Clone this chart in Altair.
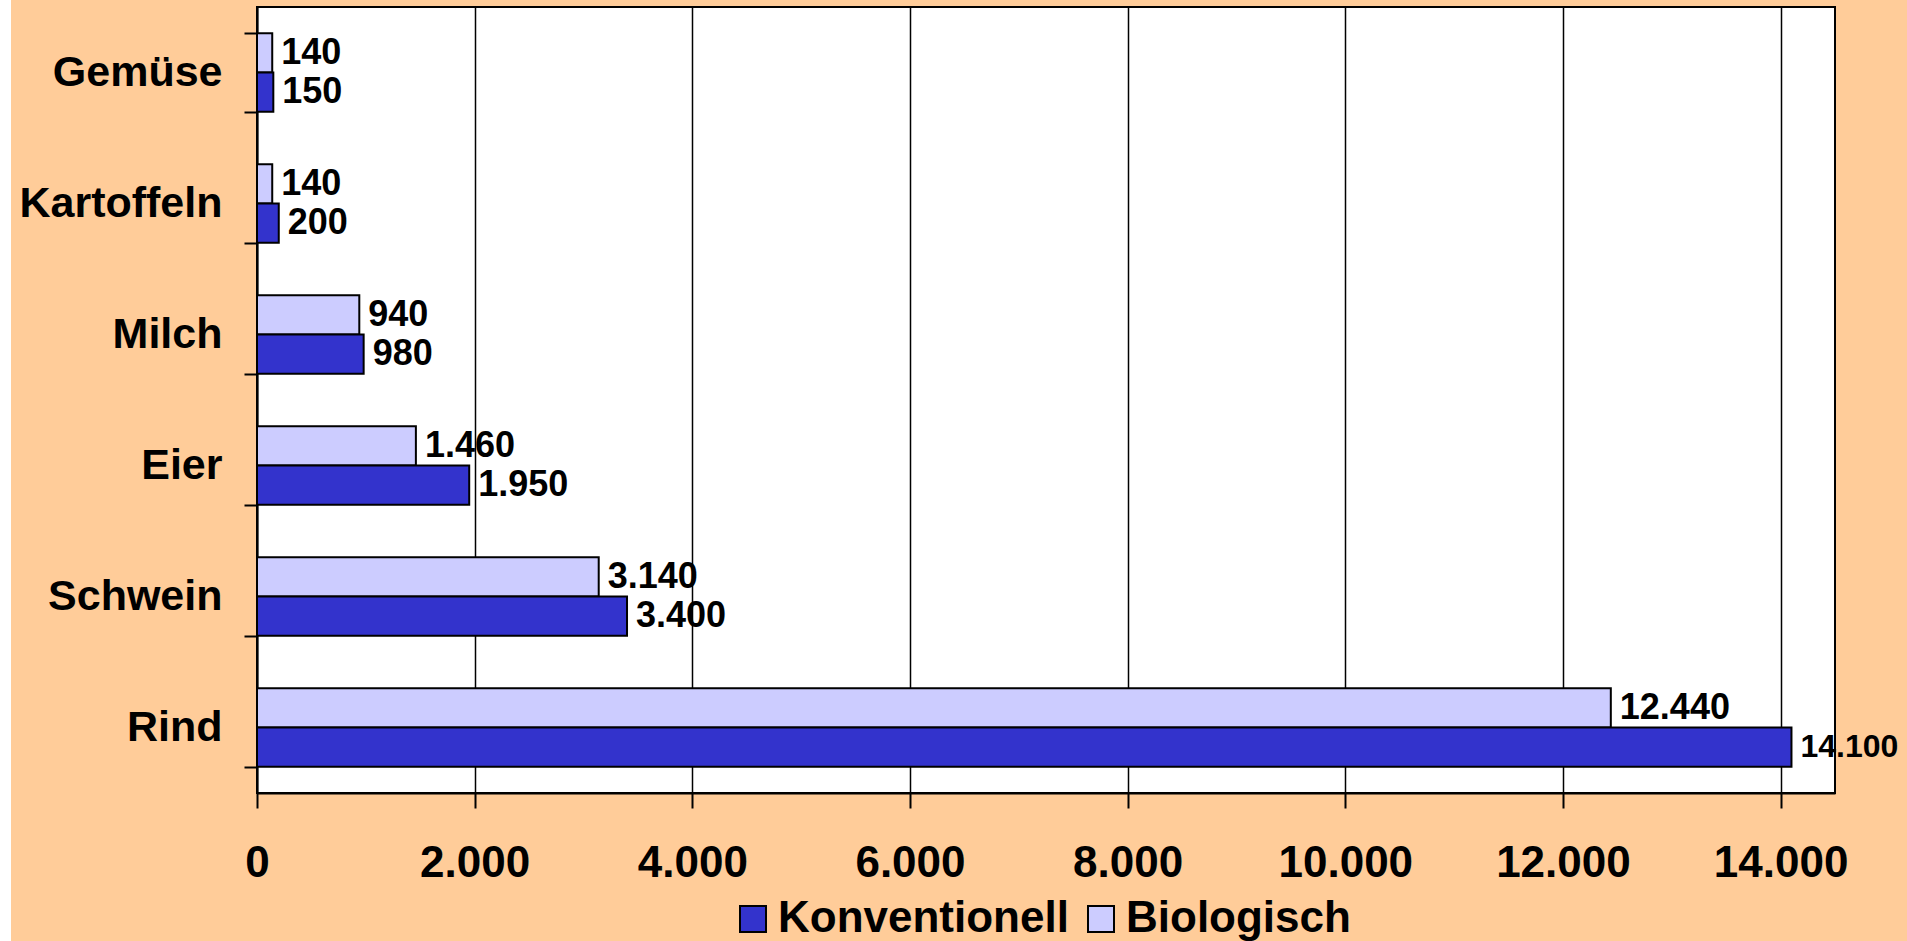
import altair as alt
import pandas as pd

categories = ["Gemüse", "Kartoffeln", "Milch", "Eier", "Schwein", "Rind"]
konventionell = [150, 200, 980, 1950, 3400, 14100]
biologisch = [140, 140, 940, 1460, 3140, 12440]
series = ["Konventionell", "Biologisch"]
x_ticks = [0, 2000, 4000, 6000, 8000, 10000, 12000, 14000]

rows = []
for c, k, b in zip(categories, konventionell, biologisch):
    rows.append({"Produkt": c, "Anbau": "Biologisch", "Wert": b})
    rows.append({"Produkt": c, "Anbau": "Konventionell", "Wert": k})
df = pd.DataFrame(rows)

FONT = "Liberation Sans"

base = alt.Chart(df).transform_calculate(
    label="replace(format(datum.Wert, ','), ',', '.')"
).encode(
    y=alt.Y("Produkt:N", sort=categories, title=None,
            scale=alt.Scale(paddingInner=0.4, paddingOuter=0.2),
            axis=alt.Axis(tickBand="extent", tickSize=13, tickWidth=2, tickColor="black",
                          domainColor="black", domainWidth=2,
                          labelFont=FONT, labelFontSize=43, labelFontWeight="bold",
                          labelColor="black", labelPadding=22, labelLimit=400)),
    yOffset=alt.YOffset("Anbau:N", sort=["Biologisch", "Konventionell"]),
    x=alt.X("Wert:Q", title=None,
            scale=alt.Scale(domain=[0, 14500], nice=False),
            axis=alt.Axis(values=x_ticks, grid=True, gridColor="black", gridWidth=1.5, gridOpacity=1,
                          tickSize=15, tickWidth=2, tickColor="black",
                          domainColor="black", domainWidth=2,
                          labelExpr="replace(format(datum.value, ','), ',', '.')",
                          labelFont=FONT, labelFontSize=44, labelFontWeight="bold",
                          labelColor="black", labelPadding=33, labelFlush=False)),
)

bars = base.mark_bar(stroke="black", strokeWidth=2, opacity=1).encode(
    color=alt.Color("Anbau:N",
                    scale=alt.Scale(domain=series, range=["#3333CC", "#CCCCFF"]),
                    legend=alt.Legend(title=None, orient="none", legendX=474, legendY=890,
                                      direction="horizontal", symbolType="square",
                                      symbolSize=676, symbolStrokeColor="black",
                                      symbolStrokeWidth=2, symbolOpacity=1,
                                      labelFont=FONT, labelFontSize=44, labelFontWeight="bold",
                                      labelColor="black", labelOffset=3, columnPadding=10,
                                      padding=0, labelLimit=600))
)

texts = base.mark_text(align="left", baseline="middle", dx=9, font=FONT,
                       fontWeight="bold", color="black").encode(
    text="label:N",
    size=alt.condition("datum.Wert > 14000", alt.value(32), alt.value(36)),
)

strip = alt.Chart(pd.DataFrame({"a": [0]})).mark_rect(color="white").encode(
    x=alt.value(-257), x2=alt.value(-246), y=alt.value(-7), y2=alt.value(934)
)

chart = alt.layer(strip, bars, texts).properties(
    width=1578, height=786,
    background="#FFCC99",
    padding={"left": 257, "top": 7, "right": 72, "bottom": 148},
    autosize=alt.AutoSizeParams(type="none"),
).configure_view(
    stroke="black", strokeWidth=2, fill="white"
)

chart.save("out.html", embed_options={"renderer": "svg", "actions": False})
